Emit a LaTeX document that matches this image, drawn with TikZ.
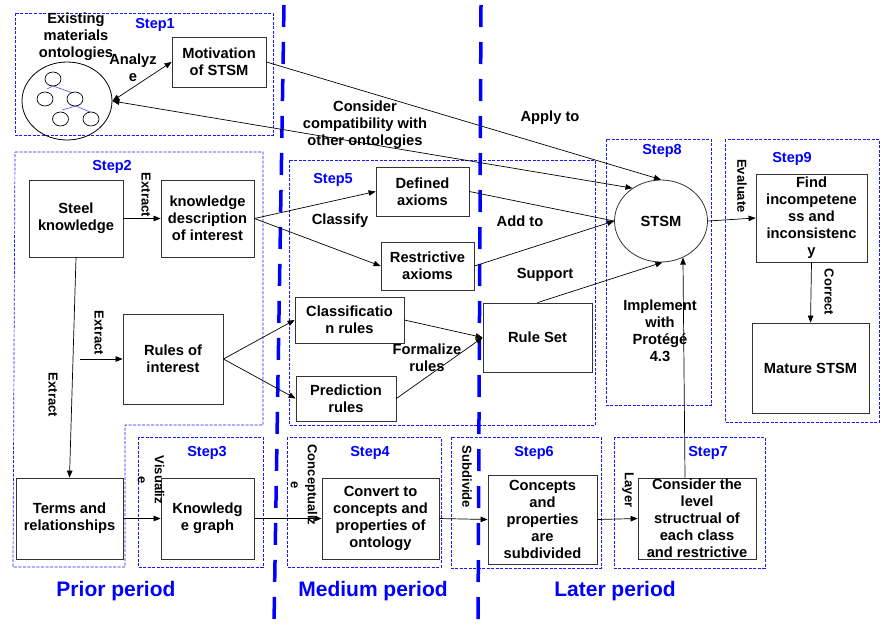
\documentclass[tikz,border=0pt]{standalone}
\usepackage{fontspec}
\setmainfont{Liberation Sans}
\usetikzlibrary{arrows.meta,shapes.geometric}

\begin{document}
\begin{tikzpicture}[x=1pt,y=-1pt,
  box/.style={draw=black!80, line width=0.8pt, align=center, inner sep=0pt,
    font=\bfseries\fontsize{14.7}{17}\selectfont},
  lab/.style={align=center, inner sep=0pt, font=\bfseries\fontsize{14.7}{17}\selectfont},
  vlab/.style={align=center, inner sep=0pt, rotate=-90, font=\bfseries\fontsize{13}{17}\selectfont},
  steplab/.style={inner sep=0pt, text=blue, font=\bfseries\fontsize{14.5}{17}\selectfont},
  periodlab/.style={inner sep=0pt, text=blue, font=\bfseries\fontsize{21}{24}\selectfont},
  stepframe/.style={draw=blue!90!white, line width=0.7pt, dash pattern=on 3pt off 1.5pt},
  divider/.style={draw=blue, line width=3.5pt, dash pattern=on 22pt off 15pt},
  arr/.style={draw=black, line width=0.7pt, -{Triangle[length=7pt,width=5.5pt]}},
  darr/.style={draw=black, line width=0.7pt, {Triangle[length=7pt,width=5.5pt]}-{Triangle[length=7pt,width=5.5pt]}},
  link/.style={draw=black, line width=0.7pt}
]
\useasboundingbox (0,0) rectangle (882,624);

% step frames
\draw[stepframe] (15,13) rectangle (273,135);
\draw[stepframe] (15,152) -- (263,152) -- (263,425) -- (125,425) -- (125,567) -- (13,567) -- cycle;
\draw[stepframe] (138,437) rectangle (263,567);
\draw[stepframe] (287,437) rectangle (441,567);
\draw[stepframe] (289,160) rectangle (595,425);
\draw[stepframe] (451,437) rectangle (601,568);
\draw[stepframe] (614,437) rectangle (765,568);
\draw[stepframe] (606,139) rectangle (711,405);
\draw[stepframe] (725,139) rectangle (879,422);

% period dividers
\draw[divider] (284,5) -- (274,624);
\draw[divider] (481,5) -- (478,624);

% step labels
\node[steplab] at (155,25) {Step1};
\node[steplab] at (112,167) {Step2};
\node[steplab] at (207,453) {Step3};
\node[steplab] at (370,453) {Step4};
\node[steplab] at (333,180) {Step5};
\node[steplab] at (534,453) {Step6};
\node[steplab] at (708,453) {Step7};
\node[steplab] at (662,151) {Step8};
\node[steplab] at (792,159) {Step9};

% period labels
\node[periodlab] at (116,591) {Prior period};
\node[periodlab] at (373,591) {Medium period};
\node[periodlab] at (615,591) {Later period};

% existing ontologies
\node[draw=black, line width=0.8pt, ellipse, inner sep=0pt, minimum width=90, minimum height=78] (exist) at (67,101) {};
\draw[blue!70, line width=0.6pt] (47,89) -- (53,86) -- (73,93);
\draw[blue!70, line width=0.6pt] (62,110) -- (76,106) -- (90,112);
\foreach \cx/\cy in {53/79, 45/99, 75/99, 60.5/119, 91/119}
  \draw[black, line width=0.7pt, fill=white] (\cx,\cy) ellipse [x radius=8, y radius=7];
\node[lab] (existlab) at (76,37) {Existing\\materials\\ontologies};

% boxes
\node[box, minimum width=94, minimum height=50] (mot) at (219,62) {Motivation\\of STSM};
\node[box, minimum width=94, minimum height=77] (steel) at (76,218.5) {Steel\\knowledge};
\node[box, minimum width=93, minimum height=77] (kd) at (207.5,218.5) {knowledge\\description\\of interest};
\node[box, minimum width=100, minimum height=90] (roi) at (173,359) {Rules of\\interest};
\node[box, minimum width=107, minimum height=81] (terms) at (69.5,518.5) {Terms and\\relationships};
\node[box, minimum width=93, minimum height=81] (kg) at (207.5,518.5) {Knowledg\\e graph};
\node[box, minimum width=117, minimum height=81] (conv) at (380.5,518.5) {Convert to\\concepts and\\properties of\\ontology};
\node[box, minimum width=109, minimum height=89] (conc) at (542.5,519.5) {Concepts\\and\\properties\\are\\subdivided};
\node[box, minimum width=118, minimum height=81] (cons) at (697,518.5) {Consider the\\level\\structrual of\\each class\\and restrictive};
\node[box, minimum width=93, minimum height=49] (def) at (422.5,191.5) {Defined\\axioms};
\node[box, minimum width=93, minimum height=48] (res) at (427.5,266) {Restrictive\\axioms};
\node[box, minimum width=109, minimum height=46] (cls) at (349.5,320) {Classificatio\\n rules};
\node[box, minimum width=100, minimum height=45] (pre) at (346,398.5) {Prediction\\rules};
\node[box, minimum width=109, minimum height=69] (rs) at (537.5,337.5) {Rule Set};
\node[box, minimum width=111, minimum height=88] (find) at (811.5,218) {Find\\incompetene\\ss and\\inconsistenc\\y};
\node[box, minimum width=117, minimum height=90] (mat) at (810.5,368) {Mature STSM};
\node[box, ellipse, minimum width=93, minimum height=82] (stsm) at (661,221) {STSM};

% free start of the rule extraction arrow
\coordinate (roiin) at (80,359);

% connectors
\draw[darr] (exist.east) -- (mot.west);
\draw[darr] (exist.east) -- (stsm.131);
\draw[arr] (mot.east) -- (stsm.north);
\draw[arr] (steel.east) -- (kd.west);
\draw[arr] (roiin) -- (roi.west);
\draw[arr] (steel.south) -- (terms.north);
\draw[arr] (kd.east) -- (def.west);
\draw[arr] (kd.east) -- (res.west);
\draw[arr] (roi.east) -- (cls.west);
\draw[arr] (roi.east) -- (pre.west);
\draw[arr] (cls.east) -- (rs.west);
\draw[arr] (pre.east) -- (rs.west);
\draw[link] (def.east) -- (stsm.west);
\draw[arr] (res.east) -- (stsm.west);
\draw[arr] (rs.north) -- (stsm.-88);
\draw[arr] (stsm.east) -- (find.west);
\draw[arr] (find.south) -- (mat.north);
\draw[arr] (terms.east) -- (kg.west);
\draw[arr] (kg.east) -- (conv.west);
\draw[arr] (conv.east) -- (conc.west);
\draw[arr] (conc.east) -- (cons.west);
\draw[arr] ([xshift=-12pt]cons.north) -- (stsm.-59);

% connector labels
\node[lab] at (133,68) {Analyz\\e};
\node[lab] at (365,125) {Consider\\compatibility with\\other ontologies};
\node[lab] at (550,118) {Apply to};
\node[lab] at (340,221) {Classify};
\node[lab] at (520,221) {Add to};
\node[lab] at (545,275) {Support};
\node[lab] at (427,358) {Formalize\\rules};
\node[lab] at (660,331) {Implement\\with\\Protégé\\4.3};
\node[vlab] at (146,195) {Extract};
\node[vlab] at (99,333) {Extract};
\node[vlab] at (53,395) {Extract};
\node[vlab] at (151,480) {Visualiz\\e};
\node[vlab] at (304,485) {Conceptualiz\\e};
\node[vlab] at (467,477) {Subdivide};
\node[vlab] at (628,490) {Layer};
\node[vlab] at (742,186) {Evaluate};
\node[vlab] at (829,292) {Correct};
\end{tikzpicture}
\end{document}
